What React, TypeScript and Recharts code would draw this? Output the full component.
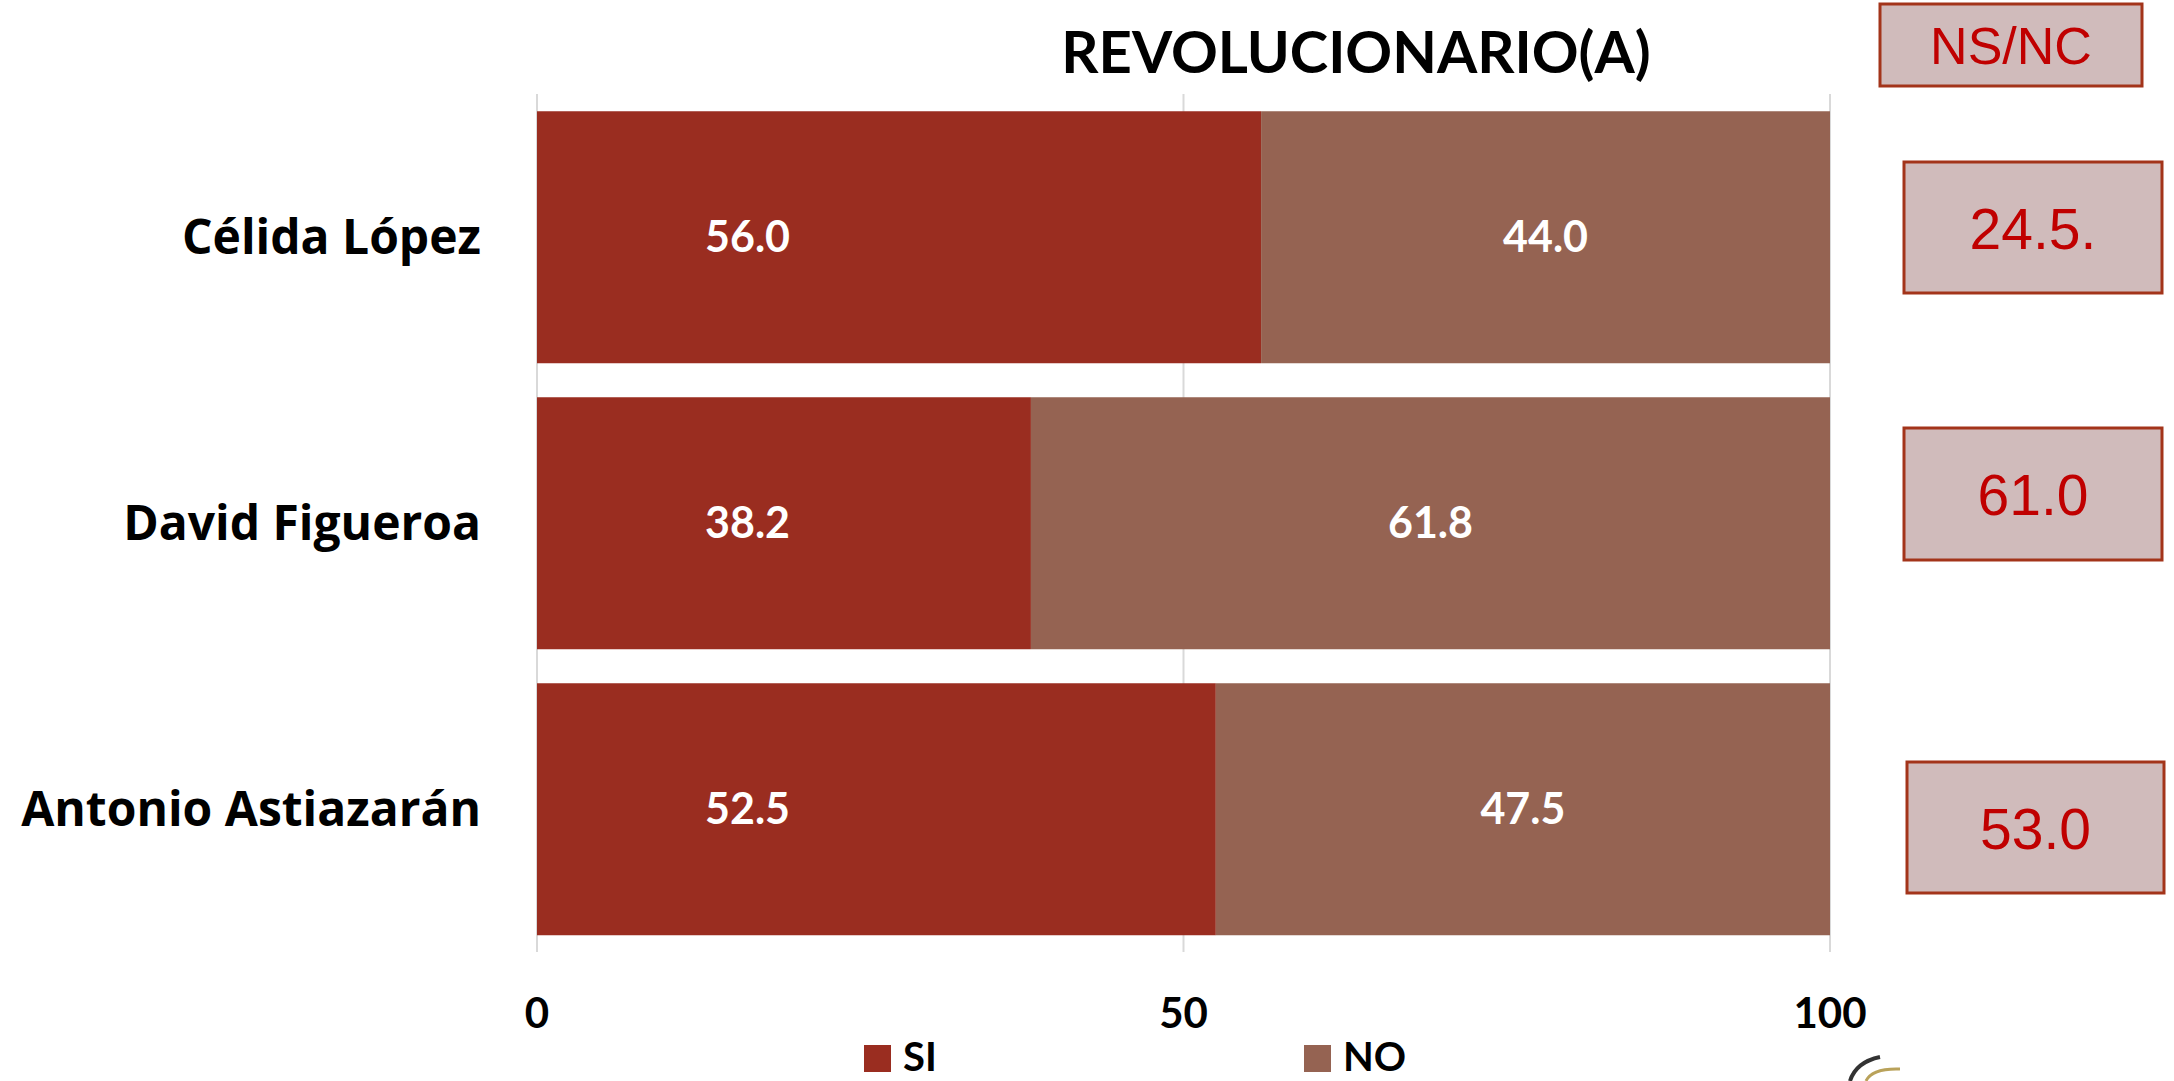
import React from "react";
import { BarChart, Bar, XAxis, YAxis, CartesianGrid, LabelList } from "recharts";

const candidates = ["Célida López", "David Figueroa", "Antonio Astiazarán"];
const siValues = [56.0, 38.2, 52.5];
const noValues = [44.0, 61.8, 47.5];
const nsncLabels = ["24.5.", "61.0", "53.0"];
const xTicks = [0, 50, 100];
const seriesNames = ["SI", "NO"];

const SI_COLOR = "#9a2d20";
const NO_COLOR = "#956352";
const BOX_FILL = "#d0bbbb";
const BOX_STROKE = "#a3341a";
const BOX_TEXT = "#c00000";

const W = 2174;
const H = 1081;

const data = candidates.map((name, i) => ({
  name,
  si: siValues[i],
  no: noValues[i],
}));

// NS/NC side boxes (layout only)
const headerBox = { x: 1880, y: 4, w: 262, h: 82 };
const sideBoxes = [
  { x: 1904, y: 162, w: 258, h: 131 },
  { x: 1904, y: 428, w: 258, h: 132 },
  { x: 1907, y: 762, w: 257, h: 131 },
];

const CategoryTick = (props: any) => {
  const { x, y, payload } = props;
  return (
    <text
      x={x}
      y={y}
      dy={17}
      textAnchor="end"
      fill="#000"
      fontFamily="'Open Sans', sans-serif"
      fontWeight={700}
      fontSize={48}
    >
      {payload.value}
    </text>
  );
};

const ValueTick = (props: any) => {
  const { x, y, payload } = props;
  return (
    <text
      x={x}
      y={y}
      dy={30}
      textAnchor="middle"
      fill="#000"
      fontFamily="Lato, sans-serif"
      fontWeight={700}
      fontSize={42}
    >
      {payload.value}
    </text>
  );
};

const labelStyle = {
  fill: "#fff",
  fontFamily: "Lato, sans-serif",
  fontWeight: 700,
  fontSize: 43,
};

export default function App() {
  const colors = [SI_COLOR, NO_COLOR];
  const legendX = [864, 1304];
  return (
    <div style={{ position: "absolute", left: 0, top: 0, width: W, height: H, background: "#fff" }}>
      <BarChart
        width={W}
        height={H}
        data={data}
        layout="vertical"
        margin={{ top: 94, right: 344, bottom: 69, left: 0 }}
        barCategoryGap="6%"
      >
        <CartesianGrid vertical horizontal={false} stroke="#d9d9d9" strokeWidth={2} />
        <XAxis
          type="number"
          domain={[0, 100]}
          ticks={xTicks}
          axisLine={false}
          tickLine={false}
          tickSize={0}
          tickMargin={46}
          height={60}
          tick={<ValueTick />}
        />
        <YAxis
          type="category"
          dataKey="name"
          width={537}
          axisLine={false}
          tickLine={false}
          tickSize={0}
          tickMargin={56}
          tick={<CategoryTick />}
        />
        <Bar dataKey="si" stackId="a" fill={SI_COLOR} isAnimationActive={false}>
          <LabelList
            dataKey="si"
            position="insideLeft"
            offset={168}
            formatter={(v: any) => Number(v).toFixed(1)}
            style={labelStyle}
          />
        </Bar>
        <Bar dataKey="no" stackId="a" fill={NO_COLOR} isAnimationActive={false}>
          <LabelList
            dataKey="no"
            position="center"
            formatter={(v: any) => Number(v).toFixed(1)}
            style={labelStyle}
          />
        </Bar>
      </BarChart>

      <svg
        width={W}
        height={H}
        style={{ position: "absolute", left: 0, top: 0, pointerEvents: "none" }}
      >
        <text
          x={1356}
          y={73}
          textAnchor="middle"
          fontFamily="Lato, sans-serif"
          fontWeight={700}
          fontSize={58}
          fill="#000"
        >
          REVOLUCIONARIO(A)
        </text>

        <rect
          x={headerBox.x}
          y={headerBox.y}
          width={headerBox.w}
          height={headerBox.h}
          fill={BOX_FILL}
          stroke={BOX_STROKE}
          strokeWidth={3}
        />
        <text
          x={headerBox.x + headerBox.w / 2}
          y={headerBox.y + headerBox.h / 2 + 19}
          textAnchor="middle"
          fontFamily="'Liberation Sans', Arial, sans-serif"
          fontSize={52}
          fill={BOX_TEXT}
        >
          NS/NC
        </text>

        {sideBoxes.map((b, i) => (
          <g key={i}>
            <rect x={b.x} y={b.y} width={b.w} height={b.h} fill={BOX_FILL} stroke={BOX_STROKE} strokeWidth={3} />
            <text
              x={b.x + b.w / 2}
              y={b.y + b.h / 2 + 21}
              textAnchor="middle"
              fontFamily="'Liberation Sans', Arial, sans-serif"
              fontSize={57}
              fill={BOX_TEXT}
            >
              {nsncLabels[i]}
            </text>
          </g>
        ))}

        {seriesNames.map((name, i) => (
          <g key={name}>
            <rect x={legendX[i]} y={1045} width={27} height={27} fill={colors[i]} />
            <text
              x={legendX[i] + 39}
              y={1071}
              fontFamily="Lato, sans-serif"
              fontWeight={700}
              fontSize={40}
              fill="#000"
            >
              {name}
            </text>
          </g>
        ))}

        {/* partial logo, bottom right */}
        <path d="M1850 1081 Q1856 1062 1880 1057" stroke="#333" strokeWidth={4} fill="none" />
        <path d="M1866 1081 Q1872 1068 1900 1069" stroke="#b9a25a" strokeWidth={3} fill="none" />
      </svg>
    </div>
  );
}
